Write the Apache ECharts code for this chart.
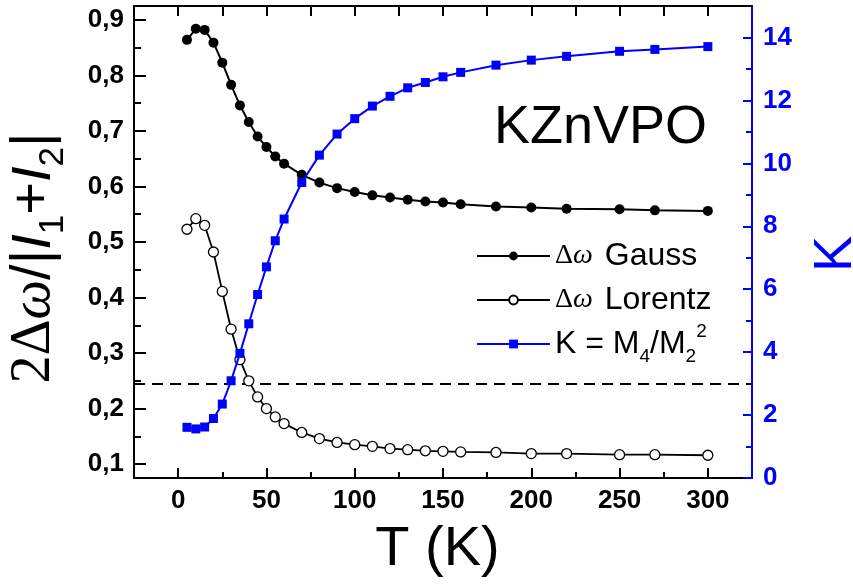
<!DOCTYPE html>
<html>
<head>
<meta charset="utf-8">
<script src="https://cdn.jsdelivr.net/npm/echarts@6/dist/echarts.min.js"></script>
<style>html,body{margin:0;padding:0;background:#fff;}#c{width:853px;height:586px;}</style>
</head>
<body>
<div id="c"></div>
<script>
// ---- data ----
const T = [5,10,15,20,25,30,35,40,45,50,55,60,70,80,90,100,110,120,130,140,150,160,180,200,220,250,270,300];
const gauss = [0.864,0.884,0.882,0.859,0.823,0.783,0.746,0.716,0.690,0.671,0.654,0.641,0.621,0.607,0.597,0.590,0.584,0.580,0.576,0.573,0.571,0.568,0.564,0.562,0.560,0.559,0.557,0.556];
const lorentz = [0.523,0.542,0.530,0.482,0.411,0.343,0.288,0.250,0.221,0.200,0.185,0.173,0.157,0.146,0.139,0.135,0.132,0.128,0.126,0.124,0.123,0.122,0.121,0.119,0.119,0.117,0.117,0.116];
const kurt = [1.61,1.56,1.62,1.89,2.35,3.09,3.96,4.90,5.83,6.71,7.54,8.23,9.39,10.26,10.93,11.42,11.82,12.13,12.40,12.57,12.75,12.89,13.12,13.28,13.40,13.56,13.62,13.71];
const K_GAUSS = 3;
const xMajorTicks = [0,50,100,150,200,250,300];
const xMinorTicks = [25,75,125,175,225,275];
const xTopTicks = [0,25,50,75,100,125,150,175,200,225,250,275,300];
const yLeftMajor = [0.1,0.2,0.3,0.4,0.5,0.6,0.7,0.8,0.9];
const yLeftMinor = [0.15,0.25,0.35,0.45,0.55,0.65,0.75,0.85];
const yRightMajor = [0,2,4,6,8,10,12,14];
const yRightMinor = [1,3,5,7,9,11,13];
const seriesNames = ['Gauss','Lorentz','K'];

const SANS = 'Liberation Sans';
const SERIF = 'Liberation Serif';
const BLUE = '#0000ff';

const pair = (xs, ys) => xs.map((x, i) => [x, ys[i]]);

const chart = echarts.init(document.getElementById('c'), null, {renderer: 'canvas'});

const labelBase = {fontFamily: SANS, fontWeight: 'bold', fontSize: 26, color: '#000', margin: 10};

const option = {
  backgroundColor: '#fff',
  animation: false,
  grid: {left: 134, right: 101, top: 6, bottom: 108, outerBoundsMode: 'none', containLabel: false},
  xAxis: [
    {
      type: 'value', position: 'bottom', min: -25, max: 325,
      axisLine: {show: true, onZero: false, lineStyle: {color: '#000', width: 2}},
      axisTick: {show: true, inside: true, length: 10, lineStyle: {color: '#000', width: 2}, customValues: xMajorTicks},
      axisLabel: Object.assign({show: true, customValues: xMajorTicks}, labelBase),
      splitLine: {show: false},
      name: 'T (K)', nameLocation: 'middle', nameGap: 44,
      nameTextStyle: {fontFamily: SANS, fontSize: 56, color: '#000', padding: [0, 11, 0, 0]}
    },
    {
      type: 'value', position: 'bottom', min: -25, max: 325,
      axisLine: {show: false, onZero: false},
      axisTick: {show: true, inside: true, length: 6, lineStyle: {color: '#000', width: 2}, customValues: xMinorTicks},
      axisLabel: {show: false}, splitLine: {show: false}
    },
    {
      type: 'value', position: 'top', min: -25, max: 325,
      axisLine: {show: true, onZero: false, lineStyle: {color: '#000', width: 2}},
      axisTick: {show: true, inside: true, length: 10, lineStyle: {color: '#000', width: 2}, customValues: xTopTicks},
      axisLabel: {show: false}, splitLine: {show: false}
    }
  ],
  yAxis: [
    {
      type: 'value', position: 'left', min: 0.075, max: 0.925,
      axisLine: {show: true, onZero: false, lineStyle: {color: '#000', width: 2}},
      axisTick: {show: true, inside: true, length: 12, lineStyle: {color: '#000', width: 2}, customValues: yLeftMajor},
      axisLabel: Object.assign({show: true, customValues: yLeftMajor, formatter: v => v.toFixed(1).replace('.', ',')}, labelBase),
      splitLine: {show: false}
    },
    {
      type: 'value', position: 'left', min: 0.075, max: 0.925,
      axisLine: {show: false, onZero: false},
      axisTick: {show: true, inside: true, length: 7, lineStyle: {color: '#000', width: 2}, customValues: yLeftMinor},
      axisLabel: {show: false}, splitLine: {show: false}
    },
    {
      type: 'value', position: 'right', min: 0, max: 15,
      axisLine: {show: true, onZero: false, lineStyle: {color: BLUE, width: 2}},
      axisTick: {show: true, inside: true, length: 9, lineStyle: {color: BLUE, width: 2}, customValues: yRightMajor},
      axisLabel: Object.assign({}, labelBase, {show: true, color: BLUE, margin: 11, customValues: yRightMajor}),
      splitLine: {show: false},
      name: 'K', nameLocation: 'middle', nameRotate: 90, nameGap: 57,
      nameTextStyle: {fontFamily: SANS, fontSize: 54, color: BLUE, padding: [0, 24, 0, 0]}
    },
    {
      type: 'value', position: 'right', min: 0, max: 15,
      axisLine: {show: false, onZero: false},
      axisTick: {show: true, inside: true, length: 6, lineStyle: {color: BLUE, width: 2}, customValues: yRightMinor},
      axisLabel: {show: false}, splitLine: {show: false}
    }
  ],
  legend: {
    show: true, orient: 'vertical', left: 476, top: 234, padding: 0,
    itemWidth: 73, itemHeight: 11, itemGap: 0,
    data: seriesNames,
    textStyle: {
      fontFamily: SANS, fontSize: 32, color: '#000', lineHeight: 44,
      rich: {
        d: {fontFamily: SERIF, fontSize: 28, color: '#000', lineHeight: 44},
        w: {fontFamily: SERIF, fontStyle: 'italic', fontSize: 28, color: '#000', lineHeight: 44},
        t: {fontFamily: SANS, fontSize: 32, color: '#000', lineHeight: 44, padding: [0, 0, 0, 12]},
        k: {fontFamily: SANS, fontSize: 32, color: '#000', lineHeight: 44},
        sb: {fontFamily: SANS, fontSize: 19, color: '#000', lineHeight: 19, verticalAlign: 'bottom'},
        sp: {fontFamily: SANS, fontSize: 19, color: '#000', lineHeight: 44, verticalAlign: 'top'}
      }
    },
    formatter: function (name) {
      if (name === 'Gauss') return '{d|Δ}{w|ω}{t|Gauss}';
      if (name === 'Lorentz') return '{d|Δ}{w|ω}{t|Lorentz}';
      return '{k|K = M}{sb|4}{k|/M}{sb|2}{sp|2}';
    }
  },
  graphic: [
    {
      type: 'text', x: 494, y: 128, z: 10,
      style: {text: 'KZnVPO', font: '54px "Liberation Sans"', fill: '#000',
        textAlign: 'left', textVerticalAlign: 'middle', align: 'left', verticalAlign: 'middle'}
    },
    {
      type: 'text', x: 34, y: 258, rotation: Math.PI / 2, z: 10,
      style: {
        text: '{n|2Δ}{w|ω}{a|/|}{i|I}{s|1}{a|+}{i|I}{s|2}{a||}',
        textAlign: 'center', textVerticalAlign: 'middle', align: 'center', verticalAlign: 'middle',
        rich: {
          n: {fontFamily: SERIF, fontSize: 56, fill: '#000', color: '#000', lineHeight: 74},
          w: {fontFamily: SERIF, fontStyle: 'italic', fontSize: 56, fill: '#000', color: '#000', lineHeight: 74},
          a: {fontFamily: SANS, fontSize: 56, fill: '#000', color: '#000', lineHeight: 74},
          i: {fontFamily: SANS, fontStyle: 'italic', fontSize: 56, fill: '#000', color: '#000', lineHeight: 74},
          s: {fontFamily: SANS, fontSize: 35, fill: '#000', color: '#000', lineHeight: 35, verticalAlign: 'bottom'}
        }
      }
    }
  ],
  series: [
    {
      type: 'line', xAxisIndex: 0, yAxisIndex: 2, z: 1,
      data: [], showSymbol: false,
      markLine: {
        z: 1, silent: true, symbol: 'none', label: {show: false},
        lineStyle: {color: '#000', type: [11, 7], width: 2},
        emphasis: {disabled: true},
        data: [{yAxis: K_GAUSS}]
      }
    },
    {
      name: 'Gauss', type: 'line', xAxisIndex: 0, yAxisIndex: 0, z: 3,
      data: pair(T, gauss),
      symbol: 'circle', symbolSize: 10, showAllSymbol: true,
      itemStyle: {color: '#000'},
      lineStyle: {color: '#000', width: 2}
    },
    {
      name: 'Lorentz', type: 'line', xAxisIndex: 0, yAxisIndex: 0, z: 3,
      data: pair(T, lorentz),
      symbol: 'circle', symbolSize: 10, showAllSymbol: true,
      itemStyle: {color: '#fff', borderColor: '#000', borderWidth: 1.3},
      lineStyle: {color: '#000', width: 1.8}
    },
    {
      name: 'K', type: 'line', xAxisIndex: 0, yAxisIndex: 2, z: 4,
      data: pair(T, kurt),
      symbol: 'rect', symbolSize: 9, showAllSymbol: true,
      itemStyle: {color: BLUE},
      lineStyle: {color: BLUE, width: 2}
    }
  ]
};
chart.setOption(option);
</script>
</body>
</html>
